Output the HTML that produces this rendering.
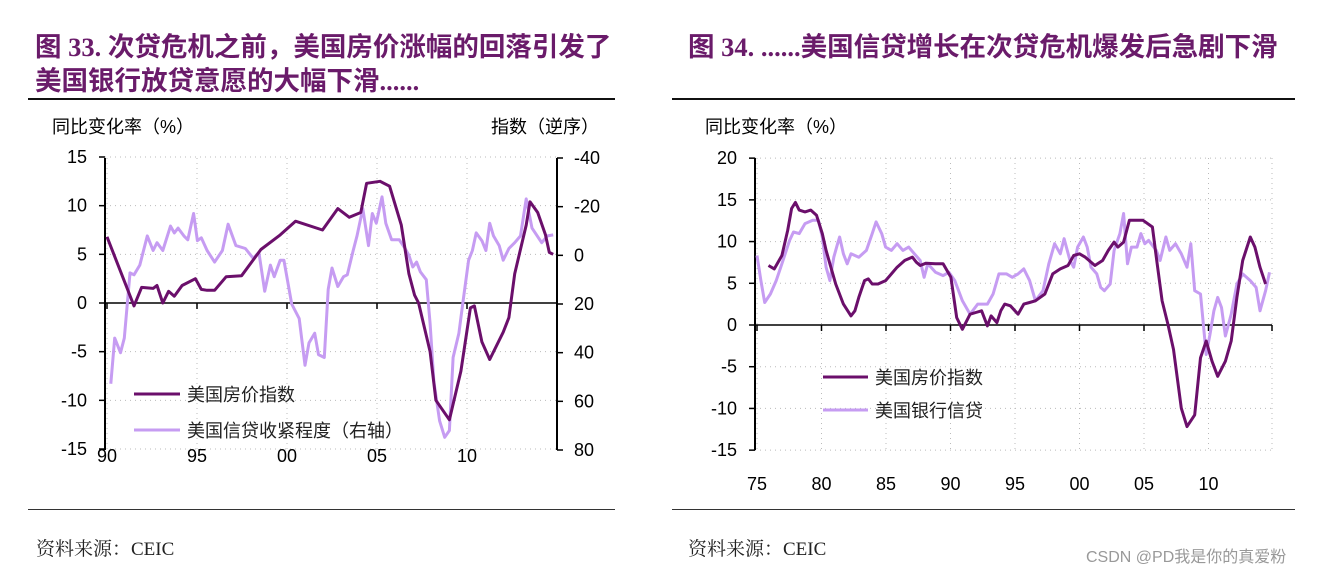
<!DOCTYPE html>
<html><head><meta charset="utf-8">
<style>
body{margin:0;background:#fff;width:1337px;height:573px;overflow:hidden;font-family:"Liberation Sans","Noto Sans CJK SC",sans-serif;}
.t{position:absolute;white-space:nowrap;}
.title{color:#6a1b6a;font-weight:bold;font-size:26.5px;line-height:34px;font-family:"Liberation Serif","Noto Sans CJK SC",sans-serif;}
.src{font-size:19px;color:#222;font-family:"Liberation Serif","Noto Serif CJK SC",serif;}
.rule{position:absolute;height:2px;background:#111;}
.rule2{position:absolute;height:1px;background:#333;}
</style></head><body>
<div class="t title" style="left:35px;top:30px;">图 33. 次贷危机之前，美国房价涨幅的回落引发了<br>美国银行放贷意愿的大幅下滑......</div>
<div class="rule" style="left:28px;top:98px;width:587px;"></div>
<div class="t title" style="left:688px;top:30px;">图 34. ......美国信贷增长在次贷危机爆发后急剧下滑</div>
<div class="rule" style="left:672px;top:98px;width:623px;"></div>
<div class="rule2" style="left:28px;top:509px;width:587px;"></div>
<div class="rule2" style="left:672px;top:509px;width:623px;"></div>
<div class="t src" style="left:36px;top:534px;">资料来源：CEIC</div>
<div class="t src" style="left:688px;top:534px;">资料来源：CEIC</div>
<div class="t" style="left:1086px;top:543px;font-size:16px;color:#999;">CSDN @PD我是你的真爱粉</div>
<svg id="svg" width="1337" height="573" style="position:absolute;left:0;top:0" font-family="Liberation Sans, Noto Sans CJK SC, sans-serif"></svg>
<script>
// ---- Chart 33 data ----
const c1HpiYearOffset=[0,1.5,1.92,2.56,2.78,3.1,3.42,3.74,4.17,4.91,5.24,5.56,5.98,6.62,7.48,8.55,9.62,10.47,11.97,12.82,13.46,14.1,14.42,15.17,15.7,16.35,16.77,17.09,17.31,17.95,18.27,19.02,19.66,20.19,20.41,20.83,21.26,22.01,22.33,22.65,23.29,23.5,23.93,24.36,24.57,24.79];
const c1HpiValues=[6.8,-0.3,1.6,1.5,1.8,0.0,1.2,0.7,1.8,2.5,1.4,1.3,1.3,2.7,2.8,5.5,7.0,8.4,7.5,9.7,8.8,9.3,12.3,12.5,12.0,8.0,3.0,0.8,0.0,-5.0,-10.0,-12.0,-7.0,-0.5,-0.3,-4.0,-5.8,-3.0,-1.5,3.0,8.0,10.4,9.3,7.0,5.2,5.0];
const c1CreditYearOffset=[0.21,0.43,0.75,0.96,1.28,1.5,1.82,2.24,2.56,2.78,3.1,3.53,3.74,3.95,4.27,4.49,4.81,5.02,5.24,5.56,5.98,6.41,6.73,7.16,7.69,8.12,8.44,8.76,9.08,9.29,9.62,9.83,10.26,10.68,11.0,11.22,11.54,11.75,12.07,12.29,12.5,12.82,13.14,13.35,13.68,13.89,14.21,14.53,14.74,14.96,15.28,15.49,15.81,16.24,16.56,16.77,16.99,17.2,17.41,17.74,17.95,18.16,18.48,18.76,19.02,19.23,19.55,19.76,20.09,20.3,20.51,20.83,21.05,21.26,21.47,21.79,22.01,22.33,22.65,22.97,23.29,23.61,24.15,24.47,24.79];
const c1CreditValues=[52.8,34,40,34,7.2,8,4,-8,-2,-5.2,-2,-12,-9.2,-11.2,-8,-6.4,-17.2,-6,-7.2,-2,2.8,-2,-12.8,-4,-2.8,1.2,-1.2,14.8,4,8.8,2,2,20,26,45.2,36,32,40.8,42,14,5.2,12.8,8.8,8,-2,-8,-19.2,-4,-17.2,-13.2,-24,-13.2,-6.4,-6.4,-2.8,0,4.8,2.8,6.8,10,28,52,68,74.8,72,42,32,20,2,-2,-9.2,-6,-2,-13.2,-8,-4,2,-2.8,-5.2,-8,-23.2,-11.2,-5.2,-8,-8.4];
const c1XTicks=["90","95","00","05","10"];
const c1LeftTicks=[15,10,5,0,-5,-10,-15];
const c1RightTicks=[-40,-20,0,20,40,60,80];
// ---- Chart 34 data ----
const c2HpiYearOffset=[0.89,1.34,1.93,2.38,2.68,2.98,3.27,3.72,4.17,4.61,5.06,5.36,5.65,6.1,6.7,7.29,7.59,7.89,8.33,8.63,8.93,9.38,9.97,10.42,10.86,11.46,12.05,12.35,12.65,13.1,13.84,14.43,15.03,15.48,15.92,16.52,16.96,17.41,17.86,18.15,18.6,18.9,19.2,19.64,20.24,20.68,21.13,21.58,22.32,22.92,23.51,24.11,24.55,25.0,25.45,26.19,26.79,27.23,27.68,27.98,28.42,28.87,29.32,29.91,30.65,30.95,31.4,31.85,32.29,32.89,33.33,33.93,34.38,34.82,35.27,35.71,36.31,36.76,37.2,37.65,38.24,38.6,38.99,39.43,39.73];
const c2HpiValues=[7.13,6.73,8.33,11.35,13.97,14.69,13.77,13.56,13.77,13.16,10.95,8.94,7.33,4.92,2.5,1.09,1.7,3.31,5.32,5.52,4.92,4.92,5.32,6.12,6.93,7.74,8.14,7.53,7.13,7.41,7.33,7.33,5.72,0.89,-0.51,1.3,1.5,1.7,-0.11,1.09,0.29,1.7,2.5,2.3,1.3,2.5,2.7,2.9,3.71,6.12,6.73,7.13,8.33,8.54,8.13,7.13,7.73,8.94,9.94,9.34,9.94,12.56,12.56,12.56,11.75,8.13,2.9,0.09,-2.93,-9.97,-12.18,-10.77,-3.93,-1.92,-4.34,-6.15,-4.34,-1.92,3.31,7.73,10.55,9.34,6.93,4.92];
const c2CreditYearOffset=[0,0.3,0.6,1.04,1.49,1.93,2.53,2.83,3.27,3.72,4.32,4.76,5.06,5.36,5.65,5.95,6.25,6.4,6.7,6.99,7.29,7.89,8.48,8.93,9.23,9.67,9.97,10.42,10.86,11.31,11.76,12.2,12.65,12.95,13.24,13.84,14.43,14.88,15.33,15.92,16.52,17.11,17.86,18.3,18.75,19.35,19.79,20.24,20.68,21.13,21.58,22.17,22.62,23.07,23.51,23.81,24.26,24.55,24.85,25.3,25.6,25.89,26.34,26.64,26.93,27.38,27.68,28.13,28.42,28.72,29.02,29.46,29.76,30.06,30.36,30.95,31.25,31.7,31.99,32.44,32.89,33.33,33.63,33.93,34.38,34.82,35.12,35.42,35.71,36.01,36.31,36.76,37.2,37.65,38.24,38.69,38.99,39.43,39.73];
const c2CreditValues=[8.33,5.32,2.7,3.71,5.32,7.33,10.14,11.15,10.95,12.16,12.56,12.56,10.55,6.93,5.32,8.13,9.74,10.55,8.54,7.33,8.54,8.13,8.94,10.95,12.36,10.95,9.34,8.94,9.74,8.94,9.34,8.54,7.73,5.72,7.33,6.32,5.92,6.32,5.32,2.9,1.3,2.5,2.5,3.71,6.12,6.12,5.72,6.12,6.73,5.32,2.9,4.11,7.33,9.74,8.54,10.35,7.73,6.93,9.34,10.55,9.34,6.93,6.12,4.51,4.11,4.92,8.94,10.95,13.36,7.33,9.34,9.34,10.95,9.74,10.14,8.94,7.73,10.55,8.94,9.74,8.54,6.93,9.74,4.11,3.71,-3.53,-1.12,1.7,3.31,2.1,-1.32,1.3,4.92,6.12,5.32,4.51,1.7,4.11,6.32];
const c2XTicks=["75","80","85","90","95","00","05","10"];
const c2YTicks=[20,15,10,5,0,-5,-10,-15];

const NS="http://www.w3.org/2000/svg";
const svg=document.getElementById('svg');
function mk(tag,attrs,parent){const e=document.createElementNS(NS,tag);for(const k in attrs)e.setAttribute(k,attrs[k]);(parent||svg).appendChild(e);return e;}
const DARK="#6b0f6b", LIGHT="#c69cf2";
const FS=18;

const x1=o=>107+o*18;
const y1L=v=>303-v*(292/30);
function y1Rf(v){return 158+(v+40)*(292/120);}
c1LeftTicks.forEach(v=>{const g=mk('line',{x1:105,x2:557,y1:y1L(v),y2:y1L(v),stroke:'#bbb','stroke-dasharray':'1 4'});});
c1XTicks.forEach((t,i)=>{const xx=x1(i*5);const g=mk('line',{x1:xx,x2:xx,y1:158,y2:450,stroke:'#bbb','stroke-dasharray':'1 4'});
 const tk=mk('line',{x1:xx,x2:xx,y1:303,y2:309,stroke:'#000','stroke-width':1.5});
 const tx=mk('text',{x:xx,y:462,'font-size':FS,'text-anchor':'middle'});tx.textContent=t;});
mk('line',{x1:105,x2:105,y1:158,y2:450,stroke:'#000','stroke-width':2});
mk('line',{x1:557,x2:557,y1:158,y2:450,stroke:'#000','stroke-width':2});
mk('line',{x1:105,x2:557,y1:303,y2:303,stroke:'#000','stroke-width':1.5});
c1LeftTicks.forEach(v=>{mk('line',{x1:99,x2:105,y1:y1L(v),y2:y1L(v),stroke:'#000','stroke-width':1.5});const t=mk('text',{x:87,y:y1L(v)+6,'font-size':FS,'text-anchor':'end'});t.textContent=v;});
c1RightTicks.forEach(v=>{mk('line',{x1:557,x2:563,y1:y1Rf(v),y2:y1Rf(v),stroke:'#000','stroke-width':1.5});const t=mk('text',{x:574,y:y1Rf(v)+6,'font-size':FS});t.textContent=v;});
function path(xs,ys,fx,fy,color,name){const d=xs.map((o,i)=>(i?'L':'M')+fx(o).toFixed(1)+' '+fy(ys[i]).toFixed(1)).join(' ');const p=mk('path',{d:d,fill:'none',stroke:color,'stroke-width':3,'stroke-linejoin':'round'});}
path(c1CreditYearOffset,c1CreditValues,x1,y1Rf,LIGHT,'c1-credit-line');
path(c1HpiYearOffset,c1HpiValues,x1,y1L,DARK,'c1-hpi-line');
let t;
t=mk('text',{x:52,y:133,'font-size':FS});t.textContent='同比变化率（%）';
t=mk('text',{x:491,y:133,'font-size':FS});t.textContent='指数（逆序）';
mk('line',{x1:134,x2:180,y1:394,y2:394,stroke:DARK,'stroke-width':3});
t=mk('text',{x:187,y:401,'font-size':FS,fill:'#222'});t.textContent='美国房价指数';
mk('line',{x1:134,x2:180,y1:430,y2:430,stroke:LIGHT,'stroke-width':3});
t=mk('text',{x:187,y:437,'font-size':FS,fill:'#222'});t.textContent='美国信贷收紧程度（右轴）';

const x2=o=>757+o*12.9;
const y2=v=>325-v*(292/35);
c2YTicks.forEach(v=>{const g=mk('line',{x1:755,x2:1272,y1:y2(v),y2:y2(v),stroke:'#bbb','stroke-dasharray':'1 4'});
 mk('line',{x1:749,x2:755,y1:y2(v),y2:y2(v),stroke:'#000','stroke-width':1.5});
 const tx=mk('text',{x:737,y:y2(v)+6,'font-size':FS,'text-anchor':'end'});tx.textContent=v;});
c2XTicks.forEach((s,i)=>{const xx=x2(i*5);const g=mk('line',{x1:xx,x2:xx,y1:158,y2:450,stroke:'#bbb','stroke-dasharray':'1 4'});
 mk('line',{x1:xx,x2:xx,y1:325,y2:331,stroke:'#000','stroke-width':1.5});
 const tx=mk('text',{x:xx,y:490,'font-size':FS,'text-anchor':'middle'});tx.textContent=s;});
mk('line',{x1:1272,x2:1272,y1:158,y2:450,stroke:'#bbb','stroke-dasharray':'1 4'});
mk('line',{x1:755,x2:755,y1:158,y2:450,stroke:'#000','stroke-width':2});
mk('line',{x1:755,x2:1272,y1:325,y2:325,stroke:'#000','stroke-width':1.5});
mk('line',{x1:1272,x2:1272,y1:325,y2:331,stroke:'#000','stroke-width':1.5});
path(c2CreditYearOffset,c2CreditValues,x2,y2,LIGHT,'c2-credit-line');
path(c2HpiYearOffset,c2HpiValues,x2,y2,DARK,'c2-hpi-line');
t=mk('text',{x:705,y:133,'font-size':FS});t.textContent='同比变化率（%）';
mk('line',{x1:823,x2:868,y1:377,y2:377,stroke:DARK,'stroke-width':3});
t=mk('text',{x:875,y:384,'font-size':FS,fill:'#222'});t.textContent='美国房价指数';
mk('line',{x1:823,x2:868,y1:410,y2:410,stroke:LIGHT,'stroke-width':3});
t=mk('text',{x:875,y:417,'font-size':FS,fill:'#222'});t.textContent='美国银行信贷';
</script>
</body></html>
